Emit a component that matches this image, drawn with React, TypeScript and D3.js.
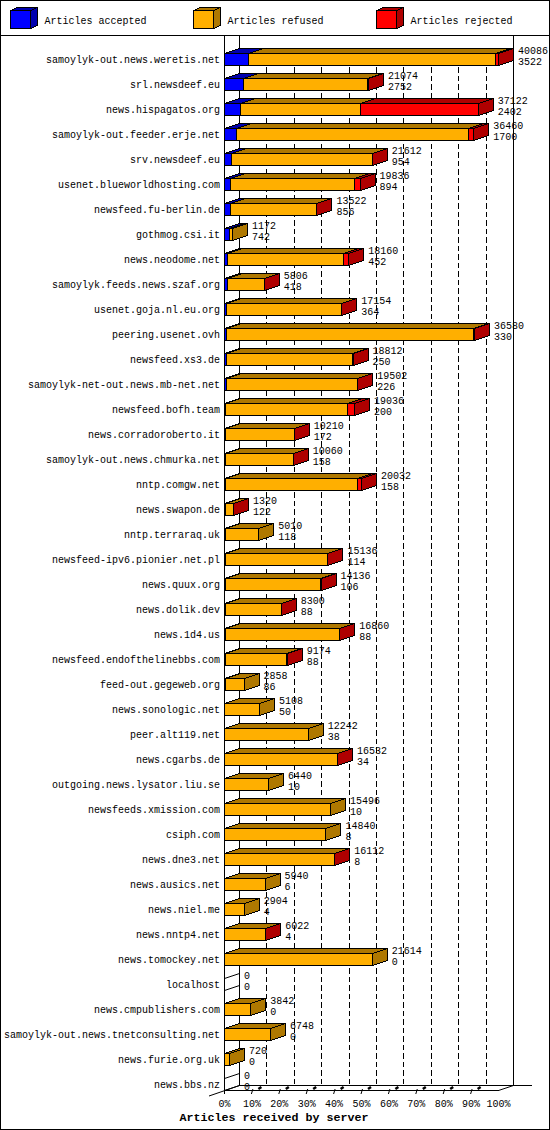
import React from "react";
import * as d3 from "d3";

const categories = [
  "samoylyk-out.news.weretis.net","srl.newsdeef.eu","news.hispagatos.org","samoylyk-out.feeder.erje.net",
  "srv.newsdeef.eu","usenet.blueworldhosting.com","newsfeed.fu-berlin.de","gothmog.csi.it","news.neodome.net",
  "samoylyk.feeds.news.szaf.org","usenet.goja.nl.eu.org","peering.usenet.ovh","newsfeed.xs3.de",
  "samoylyk-net-out.news.mb-net.net","newsfeed.bofh.team","news.corradoroberto.it","samoylyk-out.news.chmurka.net",
  "nntp.comgw.net","news.swapon.de","nntp.terraraq.uk","newsfeed-ipv6.pionier.net.pl","news.quux.org",
  "news.dolik.dev","news.1d4.us","newsfeed.endofthelinebbs.com","feed-out.gegeweb.org","news.sonologic.net",
  "peer.alt119.net","news.cgarbs.de","outgoing.news.lysator.liu.se","newsfeeds.xmission.com","csiph.com",
  "news.dne3.net","news.ausics.net","news.niel.me","news.nntp4.net","news.tomockey.net","localhost",
  "news.cmpublishers.com","samoylyk-out.news.tnetconsulting.net","news.furie.org.uk","news.bbs.nz",
];
const totals = [40086,21074,37122,36460,21612,19836,13522,1172,18160,5806,17154,36580,18812,19502,19036,10210,10060,20032,1320,5010,15136,14136,8300,16860,9174,2858,5108,12242,16532,6440,15496,14840,16112,5940,2904,6022,21614,0,3842,6748,720,0];
const accepted = [3522,2752,2402,1700,954,894,856,742,452,418,364,330,250,226,200,172,158,158,122,118,114,106,88,88,88,86,50,38,34,10,10,8,8,6,4,4,0,0,0,0,0,0];
// Read from the width of the red segment in the picture (estimates)
const rejected = [480,100,17284,780,30,880,100,0,730,20,60,120,40,30,1030,20,20,580,20,0,20,20,20,40,60,0,0,0,30,0,0,0,10,0,0,10,0,0,0,0,0,0];
const legendLabels = ["Articles accepted","Articles refused","Articles rejected"];
const tickValues = [0,10,20,30,40,50,60,70,80,90,100];
const axisTitle = "Articles received by server";

const W = 550, H = 1130;
const front = ["#0000ff","#ffaf00","#ff0000"];
const dark = ["#0000af","#af7800","#af0000"];
const DX = 15, DY = 5, BH = 12;
const labelFont = "'Liberation Mono', monospace";

const maxTotal = d3.max(totals) as number;
const x = d3.scaleLinear().domain([0, maxTotal]).range([224.5, 498.5]);
const pct = d3.scaleLinear().domain([0, 100]).range([224.5, 498.5]);
const y = d3.scalePoint<string>().domain(categories).range([59.5, 1084.5]);
const px = (v: number) => Math.round(v - 0.5) + 0.5;

function Box({ x0, x1, y0, y1, dx, dy, i, sideOnly }: any) {
  const line = d3.line();
  return (
    <g stroke="#000" strokeWidth={1} strokeLinejoin="miter" shapeRendering="crispEdges">
      <path fill={dark[i]} d={line([[x0,y0],[x0+dx,y0-dy],[x1+dx,y0-dy],[x1,y0]])+"Z"} />
      <path fill={dark[i]} d={line([[x1,y0],[x1+dx,y0-dy],[x1+dx,y1-dy],[x1,y1]])+"Z"} />
      {!sideOnly && <rect x={x0} y={y0} width={x1-x0} height={y1-y0} fill={front[i]} />}
    </g>
  );
}

function Row({ name, i }: { name: string; i: number }) {
  const cy = y(name) as number;
  const y0 = cy - BH / 2, y1 = cy + BH / 2;
  const t = totals[i], a = accepted[i], r = rejected[i], f = t - a - r;
  if (t === 0) {
    return (
      <g stroke="#000" fill="none" shapeRendering="auto">
        <path d={`M${x(0)},${y0}L${x(0)+DX},${y0-DY}`} />
        <path d={`M${x(0)},${y1}L${x(0)+DX},${y1-DY}`} />
      </g>
    );
  }
  const segs = [[0,a,0],[a,a+f,1],[a+f,t,2]].filter(s => s[1] > s[0]);
  return (
    <g>
      {segs.map(s => (
        <Box key={s[2]} x0={px(x(s[0]))} x1={px(x(s[1]))} y0={y0} y1={y1} dx={DX} dy={DY} i={s[2]} />
      ))}
    </g>
  );
}

export default function App() {
  const floorF = 1090.5, floorB = 1085.5;
  const xb = (v: number) => px(pct(v) + DX);
  return (
    <svg width={W} height={H} viewBox={`0 0 ${W} ${H}`}
      style={{ position: "absolute", left: 0, top: 0, display: "block", background: "#fff" }}>
      <rect x={0.5} y={0.5} width={W-1} height={H-1} fill="#fff" stroke="#000" shapeRendering="crispEdges" />
      <line x1={0} x2={W} y1={35.5} y2={35.5} stroke="#000" shapeRendering="crispEdges" />

      {legendLabels.map((l, i) => {
        const lx = 10.5 + i * 183;
        return (
          <g key={l}>
            <Box x0={lx} x1={lx+20} y0={10.5} y1={28.5} dx={7} dy={3} i={i} />
            <text x={lx+34} y={23.5} fontFamily={labelFont} fontSize={10}>{l}</text>
          </g>
        );
      })}

      {/* walls and grid */}
      <g stroke="#000" shapeRendering="crispEdges">
        {tickValues.filter(v => v > 0 && v < 100).map(v => (
          <line key={v} x1={xb(v)} x2={xb(v)} y1={50} y2={floorB} strokeDasharray="5.5 3" />
        ))}
        <line x1={xb(0)} x2={xb(0)} y1={36} y2={floorB} />
        <line x1={xb(100)} x2={xb(100)} y1={36} y2={floorB} />
        <line x1={x(0)} x2={x(0)} y1={36} y2={floorF} />
        <line x1={xb(0)} x2={532} y1={floorB} y2={floorB} />
        <line x1={x(0)} x2={pct(100)} y1={floorF} y2={floorF} />
      </g>
      <g stroke="#000">
        <line x1={209} y1={1096} x2={xb(0)} y2={floorB} />
        <line x1={pct(100)} y1={floorF} x2={xb(100)} y2={floorB} />
        {tickValues.filter(v => v > 0 && v < 100).map(v => (
          <g key={v}>
            <line x1={pct(v)-0.5} y1={1094} x2={pct(v)+1} y2={1089} />
            <line x1={pct(v)+6.5} y1={1089} x2={pct(v)+9.5} y2={1087} strokeWidth={2.5} />
          </g>
        ))}
        <line x1={pct(0)} y1={floorF} x2={pct(0)} y2={1094} />
      </g>

      {categories.map((c, i) => <Row key={c} name={c} i={i} />)}

      <g fontFamily={labelFont} fontSize={10} fill="#000">
        {categories.map((c, i) => {
          const cy = y(c) as number;
          const tx = x(totals[i]) + DX + 4.5;
          return (
            <g key={c}>
              <text x={220} y={cy + 3} textAnchor="end">{c}</text>
              <text x={tx} y={cy - 6}>{totals[i]}</text>
              <text x={tx} y={cy + 5}>{accepted[i]}</text>
            </g>
          );
        })}
        {tickValues.map(v => (
          <text key={v} x={pct(v)} y={1106.5} textAnchor="middle">{v}%</text>
        ))}
      </g>
      <text x={274} y={1121} textAnchor="middle" fontFamily={labelFont} fontWeight="bold" fontSize={11.67}>{axisTitle}</text>
    </svg>
  );
}
